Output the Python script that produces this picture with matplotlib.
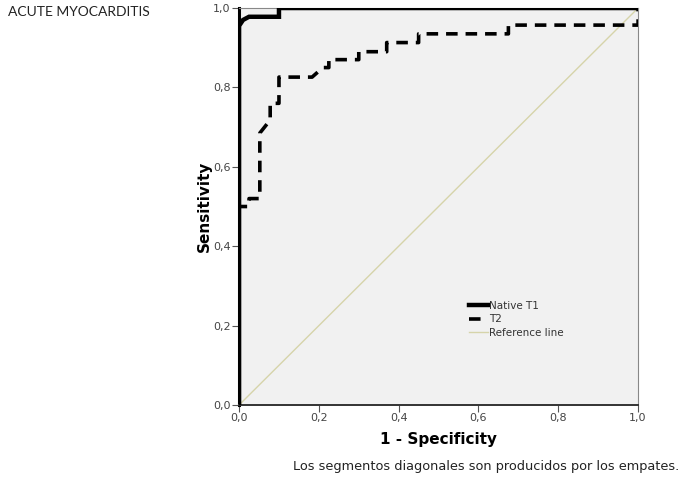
import matplotlib

matplotlib.use("Agg")
import matplotlib.pyplot as plt  # noqa: E402

# ROC curves (1 - specificity, sensitivity)
t1_fpr = [0.0, 0.0, 0.01, 0.025, 0.1, 0.1, 1.0]
t1_tpr = [0.0, 0.955, 0.97, 0.978, 0.978, 1.0, 1.0]

t2_fpr = [0.0, 0.0, 0.025, 0.025, 0.052, 0.052, 0.078, 0.078, 0.1, 0.1,
          0.183, 0.21, 0.225, 0.225, 0.30, 0.30, 0.37, 0.37, 0.45, 0.45,
          0.675, 0.675, 1.0, 1.0]
t2_tpr = [0.0, 0.5, 0.5, 0.52, 0.52, 0.685, 0.718, 0.76, 0.76, 0.826,
          0.826, 0.85, 0.85, 0.87, 0.87, 0.89, 0.89, 0.913, 0.913, 0.935,
          0.935, 0.957, 0.957, 1.0]

ref = [0.0, 1.0]
ticks = [0.0, 0.2, 0.4, 0.6, 0.8, 1.0]
tick_labels = ["0,0", "0,2", "0,4", "0,6", "0,8", "1,0"]

fig = plt.figure(figsize=(6.85, 4.84), dpi=100)
ax = fig.add_axes([0.349, 0.1632, 0.5825, 0.8202])
ax.set_facecolor("#f1f1f1")

ax.plot(ref, ref, color="#d6d4aa", lw=1.0, label="Reference line", zorder=2)
ax.plot(t2_fpr, t2_tpr, color="black", lw=2.6, ls=(0, (3.2, 2.2)),
        label="T2", zorder=3)
ax.plot(t1_fpr, t1_tpr, color="black", lw=3.2, label="Native T1", zorder=4,
        solid_joinstyle="miter")

ax.set_xlim(0, 1)
ax.set_ylim(0, 1)
ax.set_xticks(ticks)
ax.set_xticklabels(tick_labels)
ax.set_yticks(ticks)
ax.set_yticklabels(tick_labels)
ax.tick_params(direction="out", length=5, width=0.8, labelsize=8,
               labelcolor="#444444", color="#555555", pad=1)

for side in ("top", "right"):
    ax.spines[side].set_color("#888888")
    ax.spines[side].set_linewidth(0.8)
ax.spines["left"].set_linewidth(2.2)
ax.spines["bottom"].set_linewidth(1.4)
ax.spines["bottom"].set_color("#333333")

ax.set_xlabel("1 - Specificity", fontsize=11, fontweight="bold", labelpad=6)
ax.set_ylabel("Sensitivity", fontsize=11, fontweight="bold", labelpad=1)

handles, labels = ax.get_legend_handles_labels()
order = [2, 1, 0]
ax.legend([handles[i] for i in order], [labels[i] for i in order],
          loc="lower left", bbox_to_anchor=(0.553, 0.145), frameon=False,
          fontsize=7.5, handlelength=1.8, handletextpad=0.1,
          labelspacing=0.35, labelcolor="#333333")

fig.text(0.012, 0.975, "ACUTE MYOCARDITIS", fontsize=10, family="Lato",
         ha="left", va="center", color="#222222")
fig.text(0.709, 0.037, "Los segmentos diagonales son producidos por los empates.",
         fontsize=9.3, ha="center", va="center", color="#222222")

fig.savefig("out.png", dpi=100)
